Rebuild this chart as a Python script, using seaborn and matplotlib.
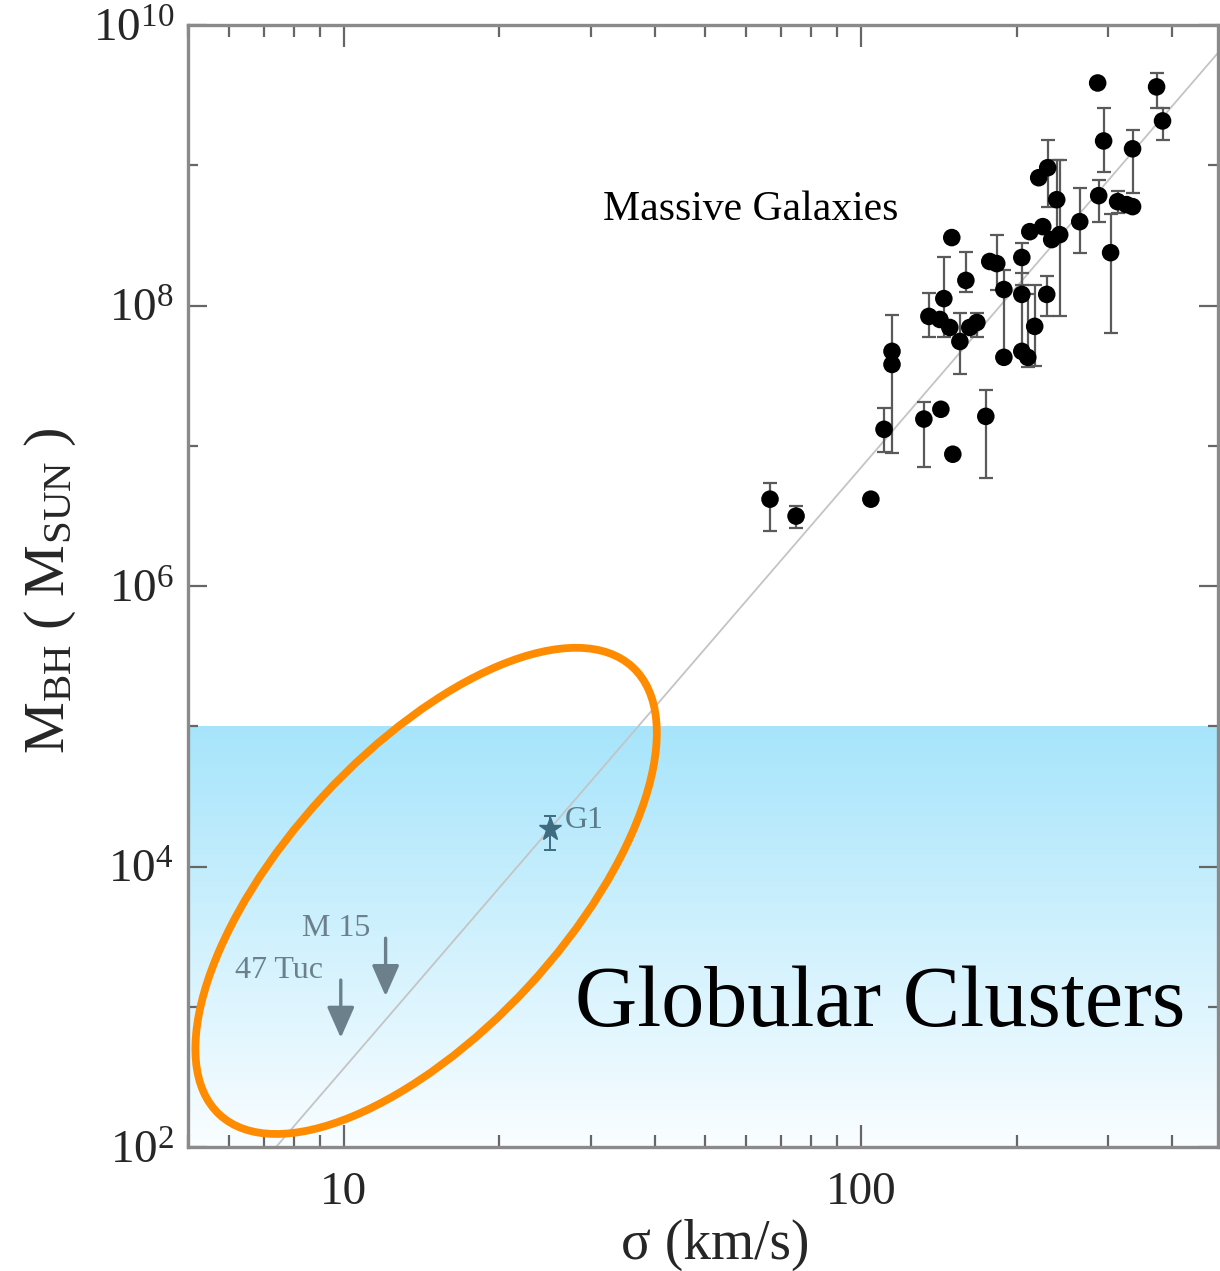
import numpy as np
import pandas as pd
import matplotlib
matplotlib.use("Agg")
import matplotlib.pyplot as plt
import matplotlib.ticker as mticker
import matplotlib.transforms as mtransforms
from matplotlib.patches import Ellipse
import seaborn as sns

# ---------------- data ----------------
gal_sigma = [66.7, 74.9, 104.5, 110.8, 114.8, 114.8, 132.3, 142.7, 150.5, 174.3,
             188.9, 204.6, 210.1, 216.7, 228.6, 204.6, 188.9, 144.6, 135.3, 142.1,
             148.5, 155.3, 162.3, 167.5, 159.5, 149.8, 177.4, 183.0, 204.6, 212.0,
             224.6, 233.7, 242.2, 220.6, 229.6, 239.0, 264.8, 288.1, 313.4, 326.1,
             335.0, 303.8, 294.5, 335.0, 286.8, 372.8, 382.8]
gal_mass = [4.16e6, 3.15e6, 4.16e6, 1.31e7, 4.71e7, 3.80e7, 1.55e7, 1.82e7, 8.7e6, 1.62e7,
            4.27e7, 4.71e7, 4.27e7, 7.1e7, 1.20e8, 1.20e8, 1.30e8, 1.12e8, 8.36e7, 7.95e7,
            6.97e7, 5.54e7, 6.97e7, 7.57e7, 1.51e8, 3.05e8, 2.06e8, 1.99e8, 2.20e8, 3.36e8,
            3.65e8, 2.95e8, 3.20e8, 8.15e8, 9.6e8, 5.68e8, 3.96e8, 6.07e8, 5.50e8, 5.24e8,
            5.07e8, 2.38e8, 1.49e9, 1.31e9, 3.86e9, 3.62e9, 2.07e9]
gal_mass_lo = [2.46e6, 2.59e6, np.nan, 9.0e6, 8.9e6, np.nan, 7.0e6, np.nan, np.nan, 5.9e6,
               np.nan, np.nan, 3.62e7, 3.68e7, 8.4e7, 5.0e7, 4.27e7, 6.0e7, 6.0e7, np.nan,
               np.nan, 3.23e7, np.nan, 6.0e7, 1.24e8, np.nan, np.nan, 1.3e8, 1.4e8, np.nan,
               np.nan, np.nan, 8.4e7, np.nan, 5.0e8, 2.95e8, 2.38e8, 3.96e8, 4.6e8, np.nan,
               np.nan, 6.4e7, 9.0e8, 6.37e8, np.nan, 2.56e9, 1.52e9]
gal_mass_hi = [5.41e6, 3.71e6, np.nan, 1.85e7, 8.5e7, np.nan, 2.04e7, np.nan, np.nan, 2.48e7,
               np.nan, np.nan, 1.20e8, 1.41e8, 1.61e8, 1.7e8, 1.80e8, 2.23e8, 1.22e8, np.nan,
               np.nan, 8.9e7, np.nan, 8.9e7, 2.42e8, np.nan, np.nan, 3.2e8, 2.8e8, np.nan,
               np.nan, np.nan, 1.09e9, 1.30e9, 1.52e9, 1.09e9, 6.9e8, 7.9e8, 6.5e8, np.nan,
               np.nan, 4.52e8, 2.56e9, 1.79e9, np.nan, 4.55e9, 2.56e9]

g1_sigma, g1_mass, g1_lo, g1_hi = 25.0, 1.86e4, 1.32e4, 2.31e4

limit_names = ["M 15", "47 Tuc"]
limit_sigma = [12.05, 9.87]
limit_top = [3.08e3, 1.55e3]
limit_bottom = [1.19e3, 6.0e2]

fit_sigma = [7.4, 500.0]
fit_mass = [1.0e2, 6.9e9]

band_low, band_high = 1e2, 1e5

# ---------------- style ----------------
sns.set_style("ticks")
plt.rcParams["font.family"] = ["Liberation Serif", "DejaVu Serif"]
plt.rcParams["mathtext.fontset"] = "custom"
plt.rcParams["mathtext.rm"] = "Liberation Serif"
plt.rcParams["mathtext.it"] = "Liberation Serif:italic"
plt.rcParams["mathtext.bf"] = "Liberation Serif:bold"

W, H = 1220, 1271
fig = plt.figure(figsize=(W / 100, H / 100), dpi=100)
L, R, T, B = 188, 1218, 25, 1147
ax = fig.add_axes([L / W, 1 - B / H, (R - L) / W, (B - T) / H])
ax.set_xscale("log")
ax.set_yscale("log")

# gradient band (globular cluster regime)
top_c = np.array(matplotlib.colors.to_rgb("#a6e4fb"))
bot_c = np.array(matplotlib.colors.to_rgb("#f9fdff"))
nb = 160
edges = np.logspace(np.log10(band_low), np.log10(band_high), nb + 1)
for i in range(nb):
    f = (i + 0.5) / nb
    ax.axhspan(edges[i], edges[i + 1], color=bot_c + (top_c - bot_c) * f, lw=0, zorder=0)

# relation line
sns.lineplot(x=fit_sigma, y=fit_mass, ax=ax, color="#c4c4c4", lw=1.3, zorder=1)

# galaxies
gal = pd.DataFrame({"sigma": gal_sigma, "mass": gal_mass,
                    "lo": gal_mass_lo, "hi": gal_mass_hi})
ge = gal.dropna()
ax.errorbar(ge["sigma"], ge["mass"], yerr=[ge["mass"] - ge["lo"], ge["hi"] - ge["mass"]],
            fmt="none", ecolor="#5a5a5a", elinewidth=1.6, capsize=5, capthick=1.6, zorder=2)
sns.scatterplot(data=gal, x="sigma", y="mass", ax=ax, color="black", s=160,
                edgecolor="none", zorder=3, legend=False)

# G1
ax.errorbar([g1_sigma], [g1_mass], yerr=[[g1_mass - g1_lo], [g1_hi - g1_mass]],
            fmt="*", color="#3e6b80", ms=17, elinewidth=1.4, capsize=4, capthick=1.4, zorder=3)
ax.text(26.8, 2.12e4, "G1", color="#5d7c8a", fontsize=23, ha="left", va="center")

# upper limits
for name, s, t, b in zip(limit_names, limit_sigma, limit_top, limit_bottom):
    ax.annotate("", xy=(s, b), xytext=(s, t),
                arrowprops=dict(arrowstyle="-|>,head_length=0.95,head_width=0.42",
                                mutation_scale=20, color="#6b808b", lw=2.4,
                                shrinkA=0, shrinkB=0), zorder=3)
ax.text(11.27, 3.62e3, "M 15", color="#6b808b", fontsize=23, ha="right", va="center")
ax.text(9.11, 1.82e3, "47 Tuc", color="#6b808b", fontsize=23, ha="right", va="center")

# ellipse highlighting globular clusters
trans = fig.dpi_scale_trans + mtransforms.ScaledTranslation(14.43, 6.70e3, ax.transData)
ell = Ellipse((0, 0), width=6.09, height=2.80, angle=47.3, transform=trans,
              fill=False, edgecolor="#ff8c00", lw=5.6, zorder=4, clip_on=False)
ax.add_patch(ell)

# annotations
ax.text(61.1, 4.82e8, "Massive Galaxies", fontsize=30, ha="center", va="center", color="black")
ax.text(28.05, 7.26e2, "Globular Clusters", fontsize=62, ha="left", va="baseline", color="black")

# axes limits and ticks
ax.set_xlim(5, 490)
ax.set_ylim(1e2, 1e10)

ax.xaxis.set_major_locator(mticker.FixedLocator([10, 100]))
ax.xaxis.set_major_formatter(mticker.FixedFormatter(["10", "100"]))
ax.xaxis.set_minor_locator(mticker.LogLocator(base=10, subs=np.arange(2, 10)))
ax.xaxis.set_minor_formatter(mticker.NullFormatter())
ax.yaxis.set_major_locator(mticker.FixedLocator([1e2, 1e4, 1e6, 1e8, 1e10]))
ax.yaxis.set_major_formatter(mticker.LogFormatterSciNotation())
ax.yaxis.set_minor_locator(mticker.FixedLocator([1e3, 1e5, 1e7, 1e9]))
ax.yaxis.set_minor_formatter(mticker.NullFormatter())

ax.tick_params(axis="both", which="both", direction="in", top=True, right=True,
               color="#666666", width=1.6)
ax.tick_params(axis="x", which="major", length=16, labelsize=34, pad=18)
ax.tick_params(axis="x", which="minor", length=8.5)
ax.tick_params(axis="y", which="major", length=14, labelsize=34, pad=10)
ax.tick_params(axis="y", which="minor", length=7)

for sp in ax.spines.values():
    sp.set_color("#8a8a8a")
    sp.set_linewidth(2.4)
    sp.set_visible(True)

ax.set_xlabel("σ (km/s)", fontsize=40, va="center", ha="center")
ax.xaxis.set_label_coords(0.512, -0.087)
ax.set_ylabel(r"$\mathrm{M}_{\mathrm{BH}}\ (\ \mathrm{M}_{\mathrm{SUN}}\ )$", fontsize=42,
              va="center", ha="center")
ax.yaxis.set_label_coords(-0.134, 0.496)

fig.savefig("out.png", dpi=100, facecolor="white")
